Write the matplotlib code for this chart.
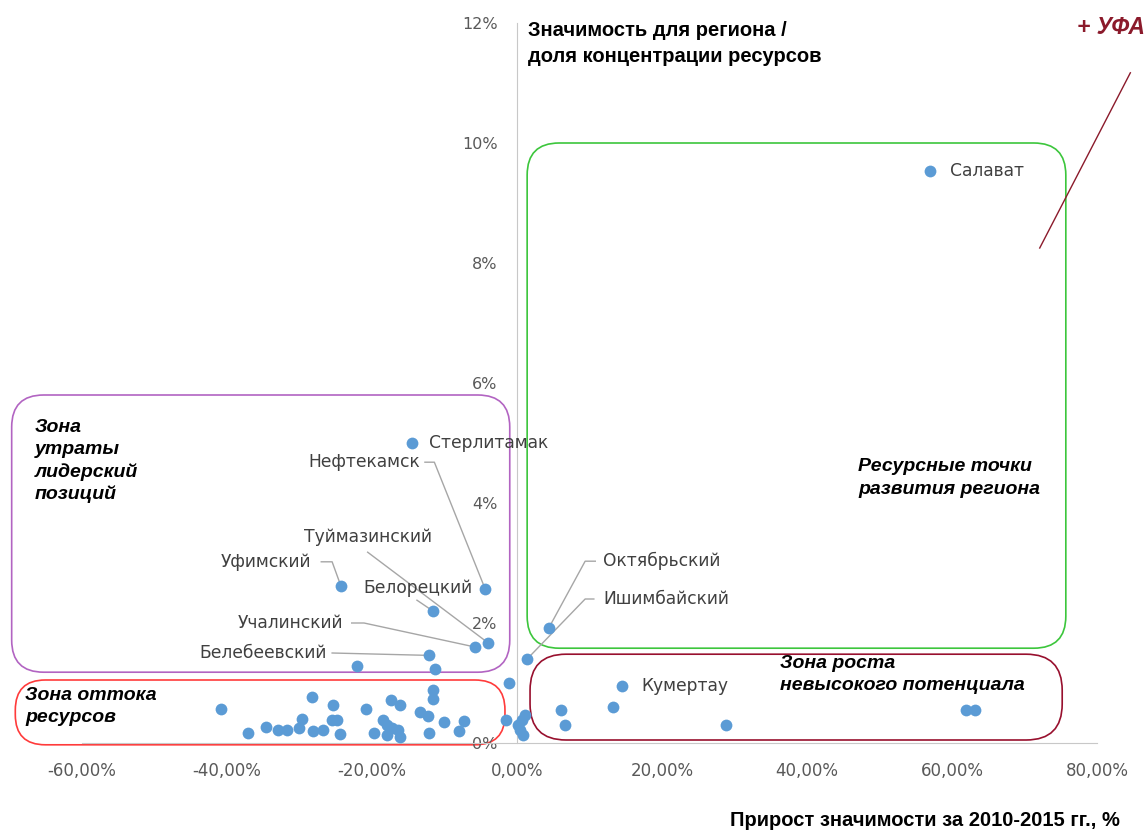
# Матрица значимости муниципалитетов (точечная диаграмма)

import matplotlib
matplotlib.use("Agg")
import matplotlib.pyplot as plt
from matplotlib.patches import FancyBboxPatch

# прирост значимости за 2010-2015, %  /  доля концентрации ресурсов, %
names_lbl = ["Салават", "Стерлитамак", "Нефтекамск", "Уфимский", "Белорецкий",
             "Туймазинский", "Учалинский", "Белебеевский", "Октябрьский",
             "Ишимбайский", "Кумертау"]
x_lbl = [57.0, -14.5, -4.4, -24.3, -11.6, -4.0, -5.8, -12.1, 4.4, 1.4, 14.5]
y_lbl = [9.53, 5.00, 2.57, 2.62, 2.20, 1.67, 1.60, 1.46, 1.92, 1.40, 0.95]

# остальные районы без подписей
x_other = [-40.8, -37.1, -34.6, -33.0, -31.7, -30.1, -29.7, -28.3, -28.1, -26.8,
           -25.5, -24.8, -25.4, -24.4, -22.1, -20.8, -19.7, -18.5, -17.9, -17.2,
           -16.4, -16.1, -17.9, -17.4, -16.1, -13.4, -12.3, -12.1, -11.6, -11.6,
           -11.3, -10.1, -8.0, -7.3, -1.5, -1.1, 0.1, 0.4, 0.7, 1.1,
           0.8, 6.1, 6.6, 13.2, 28.8, 61.9, 63.2]
y_other = [0.57, 0.17, 0.27, 0.22, 0.22, 0.25, 0.40, 0.77, 0.20, 0.22,
           0.38, 0.38, 0.63, 0.15, 1.28, 0.57, 0.17, 0.38, 0.30, 0.25,
           0.22, 0.10, 0.13, 0.72, 0.63, 0.52, 0.45, 0.17, 0.88, 0.73,
           1.23, 0.35, 0.20, 0.37, 0.38, 1.00, 0.30, 0.22, 0.38, 0.47,
           0.13, 0.55, 0.30, 0.60, 0.30, 0.55, 0.55]

x_ticks = [-60, -40, -20, 0, 20, 40, 60, 80]
x_tick_labels = ["-60,00%", "-40,00%", "-20,00%", "0,00%", "20,00%", "40,00%", "60,00%", "80,00%"]
y_ticks = [0, 2, 4, 6, 8, 10, 12]
y_tick_labels = ["0%", "2%", "4%", "6%", "8%", "10%", "12%"]

# положение подписей (x, y, выравнивание) и выноски
lbl_pos = {
    "Салават": (59.7, 9.53, "left"),
    "Стерлитамак": (-12.1, 5.0, "left"),
    "Нефтекамск": (-13.4, 4.68, "right"),
    "Уфимский": (-28.4, 3.02, "right"),
    "Белорецкий": (-6.1, 2.58, "right"),
    "Туймазинский": (-20.6, 3.43, "center"),
    "Учалинский": (-24.0, 2.0, "right"),
    "Белебеевский": (-26.3, 1.5, "right"),
    "Октябрьский": (11.9, 3.03, "left"),
    "Ишимбайский": (11.9, 2.4, "left"),
    "Кумертау": (17.1, 0.95, "left"),
}
leaders = {
    "Нефтекамск": [(-12.7, 4.68), (-11.4, 4.68)],
    "Уфимский": [(-27.0, 3.02), (-25.5, 3.02)],
    "Белорецкий": [(-13.8, 2.38)],
    "Туймазинский": [(-20.6, 3.18)],
    "Учалинский": [(-22.8, 2.0), (-21.1, 2.0)],
    "Белебеевский": [(-25.5, 1.5)],
    "Октябрьский": [(10.8, 3.03), (9.4, 3.03)],
    "Ишимбайский": [(10.6, 2.4), (9.4, 2.4)],
}

plt.rcParams['font.family'] = ['DejaVu Sans']

fig = plt.figure(figsize=(11.48, 8.32), dpi=100)
ax = fig.add_axes([82 / 1148, 89 / 832, 1015 / 1148, 720 / 832])
ax.set_xlim(-60, 80)
ax.set_ylim(0, 12)

# оси пересекаются в нуле
for s in ["top", "right"]:
    ax.spines[s].set_visible(False)
ax.spines["left"].set_position(("data", 0))
ax.spines["left"].set_color("#c8c8c8")
ax.spines["bottom"].set_color("#c8c8c8")
ax.set_xticks(x_ticks)
ax.set_xticklabels(x_tick_labels)
ax.set_yticks(y_ticks)
ax.set_yticklabels(y_tick_labels)
ax.tick_params(axis="x", length=0, pad=14, labelsize=12, labelcolor="#595959")
ax.tick_params(axis="y", length=0, pad=14, labelsize=11.5, labelcolor="#595959")

# зоны
px_x = 7.25  # пикселей на 1% по x
px_y = 60.0  # пикселей на 1% по y
zones = [
    # x0, y0, x1, y1, цвет, радиус скругления (px)
    (-69.7, 1.18, -1.0, 5.80, "#b264c2", 32),
    (1.4, 1.58, 75.7, 10.0, "#3cc63c", 32),
    (-69.2, -0.03, -1.66, 1.05, "#ff3b3b", 30),
    (1.8, 0.05, 75.2, 1.48, "#98102e", 36),
]
for x0, y0, x1, y1, c, rpx in zones:
    r = rpx / px_x
    box = FancyBboxPatch((x0, y0), x1 - x0, y1 - y0,
                         boxstyle="round,pad=0,rounding_size=%f" % r,
                         mutation_aspect=px_x / px_y,
                         fill=False, edgecolor=c, linewidth=1.2, clip_on=False, zorder=1)
    ax.add_patch(box)

# выноски
for name, pts in leaders.items():
    i = names_lbl.index(name)
    xs = [p[0] for p in pts] + [x_lbl[i]]
    ys = [p[1] for p in pts] + [y_lbl[i]]
    ax.plot(xs, ys, color="#a6a6a6", linewidth=1, zorder=2)

# точки
ax.scatter(x_other, y_other, s=72, color="#5b9bd5", zorder=3, linewidths=0)
ax.scatter(x_lbl, y_lbl, s=72, color="#5b9bd5", zorder=3, linewidths=0)

for i, name in enumerate(names_lbl):
    tx, ty, ha = lbl_pos[name]
    ax.text(tx, ty, name, ha=ha, va="center", fontsize=12.3, color="#404040", zorder=4)

# подписи зон
zfont = dict(fontsize=14, fontweight="bold", fontstyle="italic",
             family=["Liberation Sans", "DejaVu Sans"], color="black")
zone_text = [
    (35, 427, "Зона"), (35, 449, "утраты"), (35, 472, "лидерский"), (35, 494, "позиций"),
    (25, 695, "Зона оттока"), (25, 718, "ресурсов"),
    (858, 467, "Ресурсные точки"), (858, 489, "развития региона"),
    (780, 664, "Зона роста"), (780, 686, "невысокого потенциала"),
]
for px, py, t in zone_text:
    fig.text(px / 1148, 1 - py / 832, t, va="center", **zfont)

# Уфа за пределами шкалы
fig.text(1145 / 1148, 1 - 28 / 832, "+ УФА", ha="right", va="center", fontsize=16.5,
         fontweight="bold", fontstyle="italic", color="#8b1a2b",
         family=["Liberation Sans", "DejaVu Sans"])
ax.plot([84.6, 72.1], [11.17, 8.25], color="#8b1a2b", linewidth=1, clip_on=False)

# названия осей
tfont = dict(fontsize=14.5, fontweight="bold", color="black",
             family=["Liberation Sans Narrow", "Liberation Sans", "DejaVu Sans"])
fig.text(528 / 1148, 1 - 30 / 832, "Значимость для региона /", ha="left", va="center", **tfont)
fig.text(528 / 1148, 1 - 57 / 832, "доля концентрации ресурсов", ha="left", va="center", **tfont)
fig.text(1120 / 1148, 1 - 820 / 832, "Прирост значимости за 2010-2015 гг., %",
         ha="right", va="center", **tfont)

fig.savefig("out.png", dpi=100)
